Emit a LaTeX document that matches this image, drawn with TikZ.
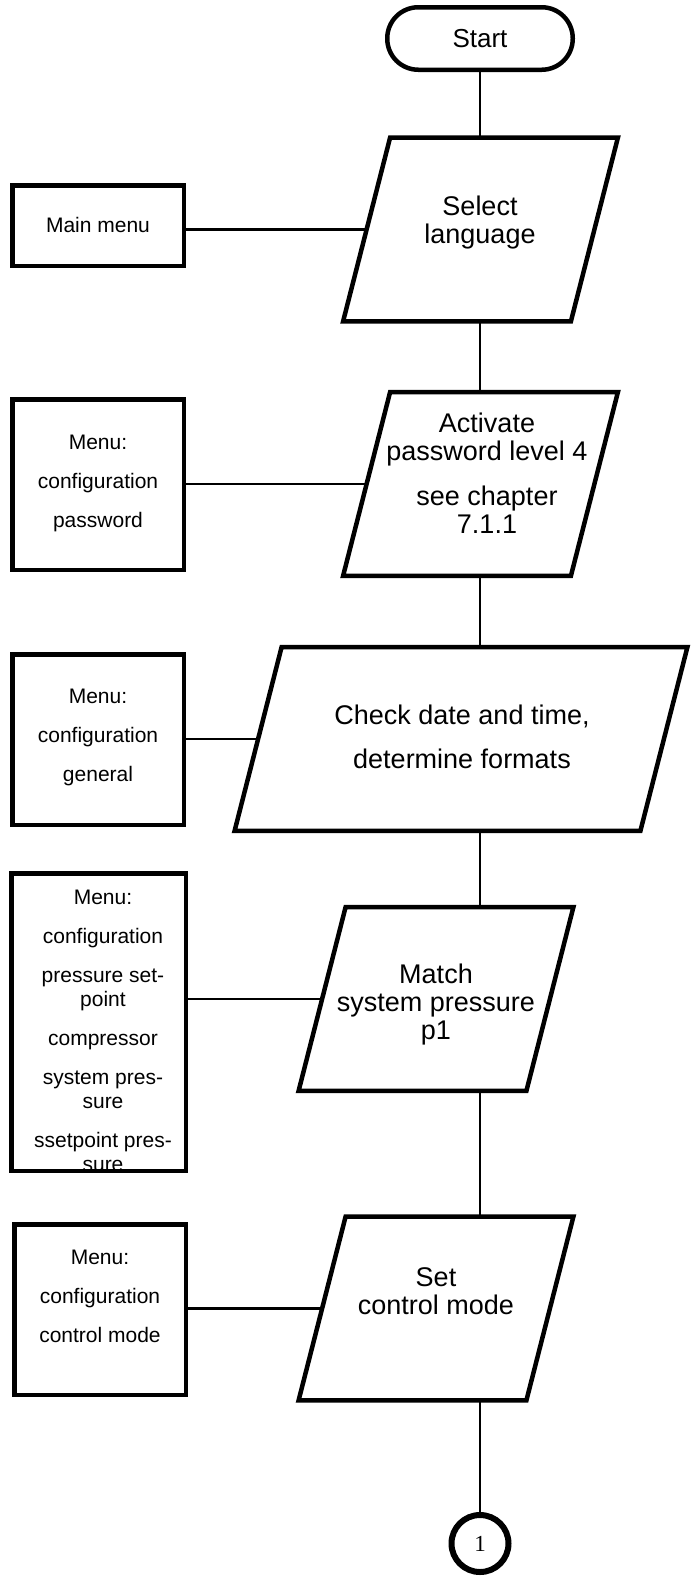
\documentclass[tikz,border=0pt]{standalone}
\usepackage{fontspec}
\setmainfont{Liberation Sans}
\newfontfamily\serifnum{Liberation Serif}

\begin{document}
\begin{tikzpicture}
  [x=0.5pt,y=-0.5pt,
   box/.style={draw,line width=2.25pt,minimum width=85.75pt,minimum height=85.25pt,inner sep=0pt},
   io/.style={minimum width=137pt,minimum height=91.5pt,inner sep=0pt},
   outline/.style={line width=2.25pt,line join=miter},
   link/.style={line width=1.2pt},
   steptext/.style={align=center,font=\fontsize{13.5}{14}\selectfont},
   menutext/.style={align=center,font=\fontsize{10.5}{12}\selectfont}]
  \useasboundingbox (0,0) rectangle (691,1585);

  \node[draw,line width=2.25pt,rounded corners=15.5pt,minimum width=92.75pt,minimum height=31.25pt,font=\fontsize{13}{14}\selectfont] (start) at (480,38.5) {Start};
  \node[io] (lang) at (480.5,229.5) {};
  \node[io] (pass) at (480.5,484) {};
  \node[io,minimum width=226pt] (clock) at (461,739) {};
  \node[io] (press) at (436,999) {};
  \node[io] (mode) at (436,1308.5) {};
  \node[draw,circle,line width=3pt,minimum size=28.5pt,inner sep=0pt,font=\serifnum\fontsize{11.5}{12}\selectfont] (conn) at (480,1543.5) {1};

  \node[box,minimum height=40.25pt] (mainmenu) at (98,225.5) {};
  \node[box] (pwmenu) at (98,484.5) {};
  \node[box] (genmenu) at (98,739.5) {};
  \node[box,minimum width=87.25pt,minimum height=148.75pt] (pressmenu) at (98.5,1022) {};
  \node[box] (modemenu) at (100,1309.5) {};

  \foreach \io in {lang,pass,clock,press,mode}
    \draw[outline] ([xshift=23.5pt]\io.north west) -- (\io.north east)
      -- ([xshift=-23.5pt]\io.south east) -- (\io.south west) -- cycle;

  % step texts
  \node[steptext] (langtxt) at (480,223) {Select\\language};
  \node[steptext] (passtxt) at (487,473) {Activate\\password level 4\\[8.5pt]see chapter\\7.1.1};
  \node[steptext] (clocktxt) at (462,737) {Check date and time,\\[8pt]determine formats};
  \node[steptext] (presstxt) at (436,1005) {Match\\system pressure\\p1};
  \node[steptext] (modetxt) at (436,1291) {Set\\control mode};

  % menu texts
  \node[menutext] (mainmenutxt) at (98,225) {Main menu};
  \node[menutext] (pwmenutxt) at (98,483.5) {Menu:\\[7.5pt]configuration\\[7.5pt]password};
  \node[menutext] (genmenutxt) at (98,737.5) {Menu:\\[7.5pt]configuration\\[7.5pt]general};
  \node[menutext] (pressmenutxt) at (103,1031) {Menu:\\[7.5pt]configuration\\[7.5pt]pressure set-\\point\\[7.5pt]compressor\\[7.5pt]system pres-\\sure\\[7.5pt]ssetpoint pres-\\sure};
  \node[menutext] (modemenutxt) at (100,1296.5) {Menu:\\[7.5pt]configuration\\[7.5pt]control mode};

  \foreach \from/\to in {start/lang,lang/pass,pass/clock,clock/press,press/mode,mode/conn}
    \draw[link] (\from.south -| start) -- (\to.north -| start);
  \foreach \menu/\io in {mainmenu/lang,pwmenu/pass,genmenu/clock,pressmenu/press,modemenu/mode}
    \draw[link] (\menu.east |- \io.west) -- ([xshift=11.75pt]\io.west);
\end{tikzpicture}
\end{document}
